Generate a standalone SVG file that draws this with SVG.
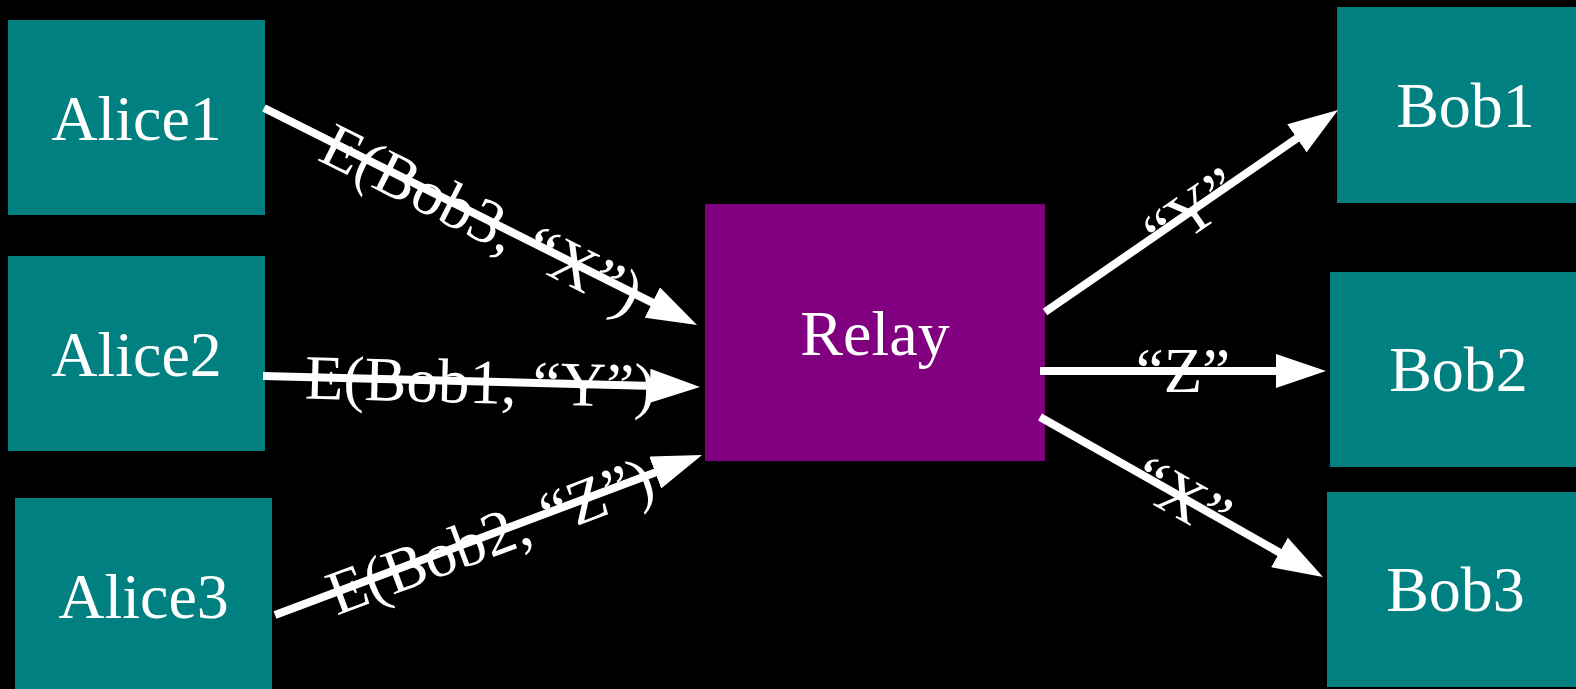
<svg xmlns="http://www.w3.org/2000/svg" width="1576" height="689" viewBox="0 0 1576 689">
<style>
.alice,.bob{fill:#008080}
.relay{fill:#800080}
text{font-family:"Liberation Serif","Times New Roman",serif;font-size:64px;fill:#ffffff;text-anchor:middle;dominant-baseline:central}
.lbl{font-size:63px}
.edge{stroke:#ffffff;stroke-width:8;fill:none;marker-end:url(#arrow)}
</style>
<defs>
<marker id="arrow" markerUnits="userSpaceOnUse" viewBox="0 -17 50 34" refX="5" refY="0" markerWidth="50" markerHeight="34" orient="auto">
<path d="M0,-17 L50,0 L0,17 Z" fill="#ffffff"/>
</marker>
</defs>
<rect x="0" y="0" width="1576" height="689" fill="#000000"/>
<g id="Alice1"><rect class="alice" x="8" y="20" width="257" height="195"/><text x="136.5" y="118">Alice1</text></g>
<g id="Alice2"><rect class="alice" x="8" y="256" width="257" height="195"/><text x="136.5" y="354">Alice2</text></g>
<g id="Alice3"><rect class="alice" x="15" y="498" width="257" height="195"/><text x="143.5" y="596">Alice3</text></g>
<g id="Relay"><rect class="relay" x="705" y="204" width="340" height="257"/><text x="875" y="333">Relay</text></g>
<g id="Bob1"><rect class="bob" x="1337" y="7" width="257" height="196"/><text x="1465.5" y="105">Bob1</text></g>
<g id="Bob2"><rect class="bob" x="1330" y="272" width="257" height="195"/><text x="1458.5" y="369">Bob2</text></g>
<g id="Bob3"><rect class="bob" x="1327" y="492" width="257" height="195"/><text x="1455.5" y="589">Bob3</text></g>
<g id="connectors">
<path class="edge" d="M264,108 L656.8,304.8"/>
<path class="edge" d="M263,376 L655,385.9"/>
<path class="edge" d="M275,615 L659.9,470.8"/>
<path class="edge" d="M1045,312 L1301,135.5"/>
<path class="edge" d="M1040,371 L1281,371"/>
<path class="edge" d="M1040,417 L1283.8,554.9"/>
<text class="lbl" transform="translate(482,219) rotate(26.6)">E(Bob3, “X”)</text>
<text class="lbl" transform="translate(480,382) rotate(1.44)">E(Bob1, “Y”)</text>
<text class="lbl" transform="translate(490,536) rotate(-20.5)">E(Bob2, “Z”)</text>
<text class="lbl" transform="translate(1192,211) rotate(-34.6)">“Y”</text>
<text class="lbl" transform="translate(1183,371)">“Z”</text>
<text class="lbl" transform="translate(1182,497) rotate(29.5)">“X”</text>
</g>
</svg>
